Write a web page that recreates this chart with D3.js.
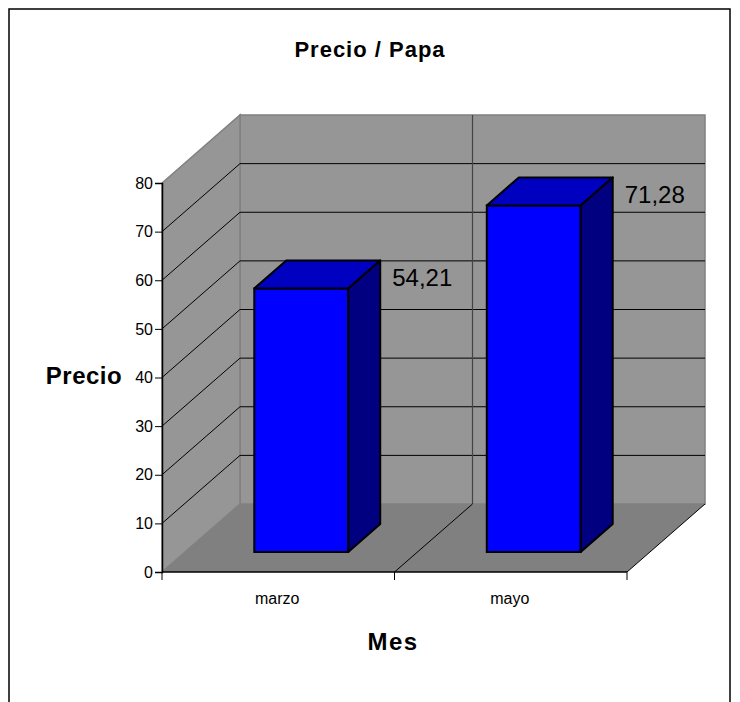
<!DOCTYPE html>
<html>
<head>
<meta charset="utf-8">
<script src="https://cdn.jsdelivr.net/npm/d3@7"></script>
<style>
  body { margin: 0; background: #fff; }
  text { font-family: "Liberation Sans", Arial, sans-serif; }
</style>
</head>
<body>
<svg width="740" height="702"></svg>
<script>
// data
var meses = ['marzo', 'mayo'];
var precios = [54.21, 71.28];
var yTicks = [0, 10, 20, 30, 40, 50, 60, 70, 80];

var svg = d3.select('svg');

// 3d depth of the plot box
var dx = 78, dy = -68;

var x = d3.scaleBand().domain(meses).range([162, 627]);
var y = d3.scaleLinear().domain([0, 80]).range([572, 183]);

var fmt = d3.formatLocale({decimal: ',', thousands: '.', grouping: [3], currency: ['', '']}).format('.2f');

// outer border
svg.append('rect')
    .attr('x', 9).attr('y', 9)
    .attr('width', 721).attr('height', 710)
    .style('fill', 'none').style('stroke', '#000').style('stroke-width', 1.5);

var x0 = x.range()[0], x1 = x.range()[1];
var yb = y(0), yt = y(80);

// back wall
svg.append('rect')
    .attr('x', x0 + dx).attr('y', yt + dy)
    .attr('width', x1 - x0).attr('height', yb - yt)
    .style('fill', '#969696').style('stroke', '#808080').style('stroke-width', 1.5);

// left wall
svg.append('polygon')
    .attr('points', [[x0, yb], [x0, yt], [x0 + dx, yt + dy], [x0 + dx, yb + dy]].join(' '))
    .style('fill', '#969696').style('stroke', '#808080').style('stroke-width', 1.5);

// floor
svg.append('polygon')
    .attr('points', [[x0, yb], [x1, yb], [x1 + dx, yb + dy], [x0 + dx, yb + dy]].join(' '))
    .style('fill', '#808080');

// gridlines
var grid = svg.append('g').attr('id', 'grid');
var inner = yTicks.filter(function(t) { return t > 0 && t < 80; });
grid.selectAll('line.back').data(inner).enter().append('line')
    .attr('x1', x0 + dx).attr('x2', x1 + dx)
    .attr('y1', function(d) { return y(d) + dy; })
    .attr('y2', function(d) { return y(d) + dy; })
    .style('stroke', '#000').style('stroke-width', 1);
grid.selectAll('line.side').data(inner).enter().append('line')
    .attr('x1', x0).attr('x2', x0 + dx)
    .attr('y1', function(d) { return y(d); })
    .attr('y2', function(d) { return y(d) + dy; })
    .style('stroke', '#000').style('stroke-width', 1);

// category dividers (back wall + floor)
var divs = meses.slice(1).map(function(m) { return x(m); });
grid.selectAll('line.vdiv').data(divs).enter().append('line')
    .attr('x1', function(d) { return d + dx; }).attr('x2', function(d) { return d + dx; })
    .attr('y1', yb + dy).attr('y2', yt + dy)
    .style('stroke', '#444').style('stroke-width', 1.2);
grid.selectAll('line.fdiv').data(divs).enter().append('line')
    .attr('x1', function(d) { return d; }).attr('x2', function(d) { return d + dx; })
    .attr('y1', yb).attr('y2', yb + dy)
    .style('stroke', '#000').style('stroke-width', 1);
// floor right edge
grid.append('line')
    .attr('x1', x1).attr('x2', x1 + dx).attr('y1', yb).attr('y2', yb + dy)
    .style('stroke', '#000').style('stroke-width', 1);

// bars
var bw = x.bandwidth() * 0.404;
var bdx = 32, bdy = -28;
var ox = (dx - bdx) / 2, oy = (dy - bdy) / 2;
var bars = svg.append('g').attr('id', 'bars');

var data = meses.map(function(m, i) { return {mes: m, precio: precios[i]}; });

var g = bars.selectAll('g').data(data).enter().append('g');
function bx(d) { return x(d.mes) + (x.bandwidth() - bw) / 2 + ox; }
function byTop(d) { return y(d.precio) + oy; }
var ybot = y(0) + oy;

g.append('rect')
    .attr('x', bx)
    .attr('y', byTop)
    .attr('width', bw)
    .attr('height', function(d) { return ybot - byTop(d); })
    .style('fill', '#0000ff').style('stroke', '#000').style('stroke-width', 2);
g.append('polygon')
    .attr('points', function(d) {
        var l = bx(d), t = byTop(d);
        return [[l, t], [l + bw, t], [l + bw + bdx, t + bdy], [l + bdx, t + bdy]].join(' ');
    })
    .style('fill', '#0000c0').style('stroke', '#000').style('stroke-width', 2)
    .style('stroke-linejoin', 'round');
g.append('polygon')
    .attr('points', function(d) {
        var r = bx(d) + bw, t = byTop(d);
        return [[r, t], [r + bdx, t + bdy], [r + bdx, ybot + bdy], [r, ybot]].join(' ');
    })
    .style('fill', '#000080').style('stroke', '#000').style('stroke-width', 2)
    .style('stroke-linejoin', 'round');

// value labels (drawn after all bars)
svg.append('g').selectAll('text').data(data).enter().append('text')
    .attr('x', function(d) { return x(d.mes) + x.bandwidth() / 2 + 144; })
    .attr('y', function(d) { return y(d.precio) - 22; })
    .attr('text-anchor', 'middle')
    .style('font-size', '24px')
    .text(function(d) { return fmt(d.precio); });

// y axis
var yAxis = d3.axisLeft(y).tickValues(yTicks).tickSize(7).tickPadding(2).tickFormat(d3.format('d'));
var ya = svg.append('g').attr('transform', 'translate(' + x0 + ',0)').call(yAxis);
ya.select('.domain').style('stroke', '#000').style('stroke-width', 1.5);
ya.selectAll('.tick line').style('stroke', '#000').style('stroke-width', 1);
ya.selectAll('.tick text')
    .style('font-family', '"Liberation Sans", Arial, sans-serif')
    .style('font-size', '16px').style('fill', '#000');

// x axis (front floor edge)
svg.append('line')
    .attr('x1', x0).attr('x2', x1).attr('y1', yb).attr('y2', yb)
    .style('stroke', '#000').style('stroke-width', 1.5);
var bounds = meses.map(function(m) { return x(m); }).concat([x1]);
svg.selectAll('line.xtick').data(bounds).enter().append('line')
    .attr('x1', function(d) { return d; }).attr('x2', function(d) { return d; })
    .attr('y1', yb).attr('y2', yb + 8)
    .style('stroke', '#000').style('stroke-width', 1);
svg.selectAll('text.cat').data(meses).enter().append('text')
    .attr('x', function(d) { return x(d) + x.bandwidth() / 2 - 1; })
    .attr('y', 604)
    .attr('text-anchor', 'middle')
    .style('font-size', '16px')
    .text(function(d) { return d; });

// titles
svg.append('text')
    .attr('x', 370).attr('y', 57)
    .attr('text-anchor', 'middle')
    .style('font-size', '22px').style('font-weight', 'bold').style('letter-spacing', '1px')
    .text('Precio / Papa');
svg.append('text')
    .attr('x', 84).attr('y', 384)
    .attr('text-anchor', 'middle')
    .style('font-size', '24px').style('font-weight', 'bold').style('letter-spacing', '0.5px')
    .text('Precio');
svg.append('text')
    .attr('x', 393).attr('y', 650)
    .attr('text-anchor', 'middle')
    .style('font-size', '24px').style('font-weight', 'bold').style('letter-spacing', '1.5px')
    .text('Mes');
</script>
</body>
</html>
